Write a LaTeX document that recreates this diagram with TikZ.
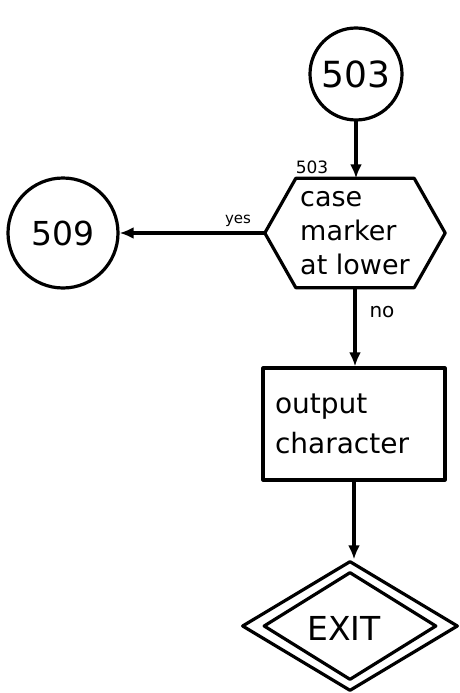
\documentclass[tikz,border=0pt]{standalone}
\usepackage{fontspec}
\setmainfont{DejaVu Sans}
\usetikzlibrary{arrows.meta,shapes.geometric}
\tikzset{
  ink/.style={line width=3.2pt,line join=round,line cap=round},
  conn/.style={ink,-{Latex[length=14pt,width=12pt]}},
  conncircle/.style={ink,circle,draw,inner sep=0pt},
  boxtext/.style={align=left,inner sep=0pt},
  lbl/.style={inner sep=0pt}
}
\begin{document}
\begin{tikzpicture}[x=1pt,y=-1pt]
\useasboundingbox[fill=white] (0,0) rectangle (460,693);

% connector circles
\node[conncircle,minimum size=92pt,font=\fontsize{36}{36}\selectfont] (c503) at (356,74) {503};
\node[conncircle,minimum size=110pt,font=\fontsize{33}{33}\selectfont] (c509) at (63,233) {509};

% decision hexagon: a frame node, outline drawn from its anchors
\node[boxtext,minimum width=180pt,minimum height=109pt,align=left,
      font=\fontsize{27}{34}\selectfont] (hex) at (355,233)
      {case\\ marker\\ at lower};
\draw[ink] ([xshift=31pt]hex.north west) -- ([xshift=-31pt]hex.north east)
  -- (hex.east) -- ([xshift=-31pt]hex.south east)
  -- ([xshift=31pt]hex.south west) -- (hex.west) -- cycle;
\node[lbl,font=\fontsize{17}{17}\selectfont] (hexlbl) at (312,167) {503};

% process box
\node[ink,draw,rectangle,minimum width=182pt,minimum height=112pt,
      text width=158pt,inner xsep=12pt,align=left,
      font=\fontsize{28}{40}\selectfont] (outbox) at (354,424)
      {output\\ character};

% terminal double diamond
\node[ink,draw,diamond,minimum width=216pt,minimum height=130pt,inner sep=0pt] (exitout) at (350,626) {};
\node[ink,draw,diamond,minimum width=173pt,minimum height=108pt,inner sep=0pt] (exitin) at (350,626) {};
\node[lbl,font=\fontsize{33}{33}\selectfont] (exittext) at (344,628) {EXIT};

% flow
\draw[conn] (c503.south) -- (c503.south |- hex.north);
\draw[conn] (hex.west) -- (c509.east |- hex.west);
\draw[conn] (hex.south) -- (hex.south |- outbox.north);
\draw[conn] (outbox.south) -- (outbox.south |- exitout.north);

% branch labels
\node[lbl,font=\fontsize{15}{15}\selectfont] (yes) at (238,221) {yes};
\node[lbl,font=\fontsize{20}{20}\selectfont] (no) at (382,312) {no};
\end{tikzpicture}
\end{document}
